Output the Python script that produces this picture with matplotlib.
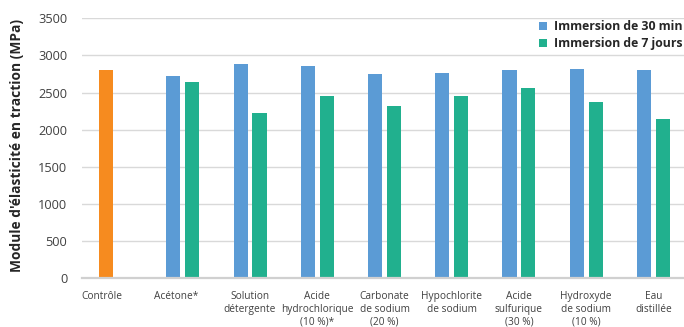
import matplotlib
matplotlib.use("Agg")
import matplotlib.pyplot as plt
import matplotlib.transforms as mtransforms
import numpy as np

plt.rcParams['font.family'] = ['Open Sans', 'DejaVu Sans']

categories = ["Contrôle", "Acétone*", "Solution\ndétergente",
              "Acide\nhydrochlorique\n(10 %)*", "Carbonate\nde sodium\n(20 %)",
              "Hypochlorite\nde sodium", "Acide\nsulfurique\n(30 %)",
              "Hydroxyde\nde sodium\n(10 %)", "Eau\ndistillée"]
controle = 2800
immersion_30min = [2720, 2880, 2855, 2750, 2765, 2800, 2815, 2800]
immersion_7jours = [2640, 2225, 2455, 2320, 2455, 2560, 2375, 2145]
y_ticks = [0, 500, 1000, 1500, 2000, 2500, 3000, 3500]

c_blue = "#5B9BD5"
c_green = "#21B08E"
c_orange = "#F68B1F"
c_text = "#404040"
c_grid = "#D9D9D9"

W, H = 684, 327
fig = plt.figure(figsize=(W / 100, H / 100), dpi=100)
ax = fig.add_axes([82 / W, 48.7 / H, (687 - 82) / W, 260 / H])

width = 0.21
off = 0.14
x = np.arange(1, len(categories))
ax.bar([0 - off], [controle], width=width, color=c_orange, zorder=3)
ax.bar(x - off, immersion_30min, width=width, color=c_blue, zorder=3,
       label="Immersion de 30 min")
ax.bar(x + off, immersion_7jours, width=width, color=c_green, zorder=3,
       label="Immersion de 7 jours")

ax.set_xlim(-0.5, len(categories) - 0.5)
ax.set_ylim(0, 3500)
ax.set_yticks(y_ticks)
ax.set_yticklabels([str(v) for v in y_ticks], fontsize=9.2, color=c_text)
ax.yaxis.grid(True, color=c_grid, linewidth=1.0, zorder=0)
ax.set_axisbelow(True)
for s in ("left", "right", "top"):
    ax.spines[s].set_visible(False)
ax.spines["bottom"].set_color("#D0D0D0")
ax.spines["bottom"].set_linewidth(1.6)
ax.spines["bottom"].set_zorder(4)
ax.tick_params(axis="both", length=0)
ax.tick_params(axis="y", pad=10.5)

ax.set_xticks(np.arange(len(categories)))
ax.set_xticklabels(categories, fontsize=7.3, color=c_text, linespacing=1.25,
                   va="top")
ax.tick_params(axis="x", pad=9)
# first two labels sit a little left of their category centres
shifts = [-14, -7]
for lbl, dx in zip(ax.get_xticklabels()[:2], shifts):
    lbl.set_transform(lbl.get_transform() +
                      mtransforms.ScaledTranslation(dx / 100, 0, fig.dpi_scale_trans))

fig.text(17.5 / W, 1 - 145.5 / H, "Module d'élasticité en traction (MPa)",
         rotation=90, ha="center", va="center", fontsize=9.9, fontweight="bold",
         color="#262626")

leg = fig.legend(loc="upper left", bbox_to_anchor=(539 / W, 1 - 20.5 / H),
                 frameon=False, prop={"weight": "bold", "size": 8.8},
                 handlelength=0.68, handleheight=0.68, handletextpad=0.55,
                 labelspacing=0.3, borderpad=0, borderaxespad=0)
for t in leg.get_texts():
    t.set_color("#262626")

fig.savefig("out.png", dpi=100)
